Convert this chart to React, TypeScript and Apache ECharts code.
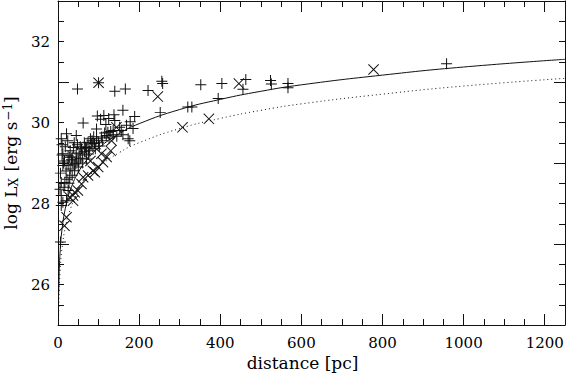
import React, { useEffect, useRef } from "react";
import * as echarts from "echarts";

// + symbols: distance [pc], log Lx
const plusD = [48, 100, 140, 166, 222, 256, 258, 352, 404, 463, 456, 524, 526, 567, 567, 958,
  252, 320, 330, 395,
  97, 113, 138, 160, 189, 62, 140, 169, 95, 123, 156, 105, 125, 118, 178,
  21, 8, 12, 25, 12, 8, 12, 45, 74, 95, 119, 136, 152, 173, 45, 29, 70, 82, 107, 136, 177,
  17, 29, 41, 25, 8, 21, 8, 6, 35, 40, 50, 55, 60, 65, 50, 60, 78, 86, 90, 100, 110, 126, 145,
  30, 35, 20, 22, 15, 30, 18, 10, 40, 55, 65, 80, 160, 185, 14, 35, 70,
  25, 33, 45, 52, 58, 68, 75, 84, 92, 102, 115, 130, 16, 24, 38, 48, 6, 10, 5, 27, 44, 88];
const plusL = [30.83, 30.98, 30.77, 30.83, 30.79, 31.02, 30.96, 30.93, 30.96, 31.06, 30.82, 31.04, 30.95, 30.96, 30.86, 31.45,
  30.25, 30.38, 30.38, 30.59,
  30.16, 30.17, 30.19, 30.30, 30.15, 29.99, 30.05, 29.93, 29.84, 29.76, 29.80, 30.08, 30.10, 29.95, 30.02,
  29.72, 29.60, 29.23, 29.18, 28.94, 28.52, 28.03, 29.23, 29.51, 29.60, 29.68, 29.80, 29.88, 29.60, 29.68, 29.14, 29.35, 29.47, 29.64, 29.70, 29.55,
  28.52, 28.65, 28.81, 28.32, 28.20, 28.07, 27.95, 27.05, 29.00, 28.95, 29.05, 29.12, 29.20, 29.28, 28.90, 29.00, 29.30, 29.40, 29.48, 29.50, 29.55, 29.62, 29.66,
  28.85, 28.70, 28.80, 28.60, 28.40, 29.30, 29.40, 29.45, 29.50, 29.40, 29.50, 29.60, 29.70, 29.85, 29.00, 29.15, 29.10,
  28.95, 29.08, 29.10, 29.25, 29.35, 29.38, 29.22, 29.55, 29.35, 29.42, 29.74, 29.78, 29.05, 29.55, 29.38, 29.45, 28.75, 29.20, 28.35, 28.50, 28.98, 29.65];

// x symbols
const crossD = [100, 246, 446, 778, 307, 372, 107, 86, 62, 49, 37, 21, 91, 99, 74, 111, 132, 58, 41, 29, 37, 130, 120, 144, 16, 80];
const crossL = [30.98, 30.64, 30.96, 31.31, 29.88, 30.09, 29.23, 28.81, 28.65, 28.32, 28.20, 27.66, 28.77, 28.90, 28.69, 29.02, 29.55, 28.48, 28.28, 28.15, 28.07, 29.30, 29.15, 29.88, 27.45, 29.05];

// limit curves
const curveD = [1.5, 2, 3, 5, 10, 20, 30, 50, 75, 100, 150, 200, 300, 400, 500, 600, 800, 1000, 1250];
const solidL = [25.72, 25.97, 26.32, 26.77, 27.37, 27.97, 28.32, 28.77, 29.12, 29.37, 29.72, 29.97, 30.32, 30.57, 30.77, 30.93, 31.17, 31.37, 31.56];
const dottedL = [25.25, 25.50, 25.85, 26.30, 26.90, 27.50, 27.85, 28.30, 28.65, 28.90, 29.25, 29.50, 29.85, 30.10, 30.30, 30.46, 30.70, 30.90, 31.09];

const xMajorLabels = [0, 200, 400, 600, 800, 1000, 1200];
const yMajorLabels = [26, 28, 30, 32];

const PLUS = "path://M5 0H6V5H11V6H6V11H5V6H0V5H5Z";
const CROSS = "path://M0 0.7L0.7 0L5.5 4.8L10.3 0L11 0.7L6.2 5.5L11 10.3L10.3 11L5.5 6.2L0.7 11L0 10.3L4.8 5.5Z";
const FONT = "DejaVu Serif";
const INK = "#111";

export default function App() {
  const ref = useRef<HTMLDivElement>(null);
  useEffect(() => {
    if (!ref.current) return;
    const chart = echarts.init(ref.current, null, { renderer: "svg" });
    const xBase = (pos: string, interval: number, len: number, line: boolean, labels: boolean) => ({
      type: "value",
      position: pos,
      min: 0,
      max: 1250,
      interval,
      axisLine: { show: line, onZero: false, lineStyle: { color: INK, width: 1 } },
      axisTick: { show: true, inside: true, length: len, lineStyle: { color: INK, width: 1 } },
      axisLabel: labels
        ? {
            show: true,
            margin: 10,
            color: "#000",
            fontFamily: FONT,
            fontSize: 15,
            formatter: (v: number) => (xMajorLabels.indexOf(v) >= 0 ? String(v) : ""),
          }
        : { show: false },
      splitLine: { show: false },
    });
    const yBase = (pos: string, interval: number, len: number, line: boolean, labels: boolean) => ({
      type: "value",
      position: pos,
      min: 25,
      max: 33,
      interval,
      axisLine: { show: line, onZero: false, lineStyle: { color: INK, width: 1 } },
      axisTick: { show: true, inside: true, length: len, lineStyle: { color: INK, width: 1 } },
      axisLabel: labels
        ? {
            show: true,
            margin: 8,
            color: "#000",
            fontFamily: FONT,
            fontSize: 15,
            formatter: (v: number) => (yMajorLabels.indexOf(v) >= 0 ? String(v) : ""),
          }
        : { show: false },
      splitLine: { show: false },
    });
    const x0: any = xBase("bottom", 50, 6, true, true);
    x0.name = "distance [pc]";
    x0.nameLocation = "middle";
    x0.nameGap = 28;
    x0.nameTextStyle = { fontFamily: FONT, fontSize: 17, color: "#000", padding: [0, 18, 0, 0] };
    const y0: any = yBase("left", 0.5, 6, true, true);
    y0.name = "{t|log L}{s|X}{t| [erg s}{p|−1}{t|]}";
    y0.nameLocation = "middle";
    y0.nameGap = 33;
    y0.nameTextStyle = {
      fontFamily: FONT,
      color: "#000",
      rich: {
        t: { fontFamily: FONT, fontSize: 17, color: "#000", lineHeight: 18, verticalAlign: "middle" },
        s: { fontFamily: FONT, fontSize: 12, color: "#000", lineHeight: 18, verticalAlign: "bottom", padding: [0, 1, 0, 0] },
        p: { fontFamily: FONT, fontSize: 12, color: "#000", lineHeight: 18, verticalAlign: "top", padding: [0, 0, 0, 1] },
      },
    };
    chart.setOption({
      animation: false,
      backgroundColor: "#fff",
      grid: { left: 58, right: 3, top: 1, bottom: 50, containLabel: false, outerBoundsMode: "none" },
      xAxis: [
        x0,
        xBase("bottom", 200, 11, false, false),
        xBase("top", 50, 6, true, false),
        xBase("top", 200, 11, false, false),
      ],
      yAxis: [
        y0,
        yBase("left", 2, 11, false, false),
        yBase("right", 0.5, 6, true, false),
        yBase("right", 2, 11, false, false),
      ],
      series: [
        {
          type: "line",
          data: curveD.map((d, i) => [d, solidL[i]]),
          showSymbol: false,
          smooth: true,
          lineStyle: { color: INK, width: 1, type: "solid" },
          z: 2,
        },
        {
          type: "line",
          data: curveD.map((d, i) => [d, dottedL[i]]),
          showSymbol: false,
          smooth: true,
          lineStyle: { color: INK, width: 1, type: [1, 3] },
          z: 2,
        },
        {
          type: "scatter",
          data: plusD.map((d, i) => [d, plusL[i]]),
          symbol: PLUS,
          symbolSize: 11,
          itemStyle: { color: INK, opacity: 1 },
          z: 3,
        },
        {
          type: "scatter",
          data: crossD.map((d, i) => [d, crossL[i]]),
          symbol: CROSS,
          symbolSize: 11,
          itemStyle: { color: INK, opacity: 1 },
          z: 3,
        },
      ],
    });
    return () => chart.dispose();
  }, []);
  return <div ref={ref} style={{ width: 568, height: 375, position: "absolute", left: 0, top: 0 }} />;
}
